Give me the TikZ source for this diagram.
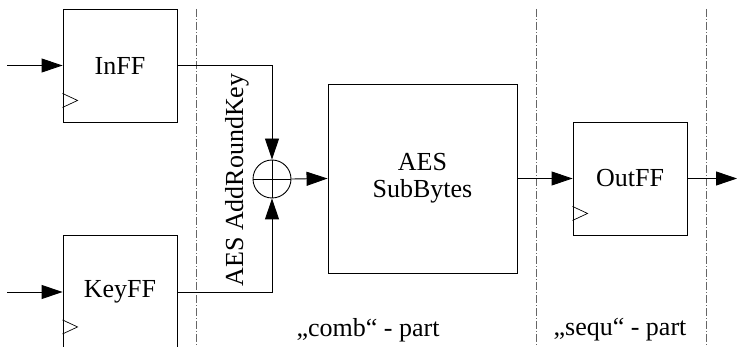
\documentclass[tikz,border=0pt]{standalone}
\usepackage{fontspec}
\setmainfont{Liberation Serif}
\usetikzlibrary{arrows.meta,calc}
\begin{document}
\begin{tikzpicture}[x=1pt,y=-1pt,
  every node/.style={font=\fontsize{26}{30}\selectfont},
  wire/.style={line width=0.9pt},
  sig/.style={wire,-{Triangle[length=21pt,width=14pt]}},
  ffbox/.style={draw,line width=0.9pt,minimum width=114pt,minimum height=113pt,inner sep=0pt},
  combbox/.style={draw,line width=0.9pt,minimum width=189pt,minimum height=189pt,inner sep=0pt,align=center},
  xorc/.style={draw,circle,line width=0.9pt,minimum size=38pt,inner sep=0pt},
  divider/.style={draw=gray!80!black,line width=0.9pt,dash pattern=on 8pt off 2pt on 1pt off 2pt},
  clk/.style={line width=0.7pt}]
\useasboundingbox (0,0) rectangle (737,347);
\clip (0,0) rectangle (737,347);

% region dividers
\draw[divider] (196,9) -- (196,347);
\draw[divider] (536,9) -- (536,347);
\draw[divider] (706,9) -- (706,347);

% registers and logic
\node[ffbox] (inff) at (120,65.5) {InFF};
\node[ffbox] (keyff) at (120,292) {KeyFF};
\node[xorc] (xor) at (272,179) {};
\node[combbox] (sub) at (422.5,178.5) {AES\\[-3pt]SubBytes};
\node[ffbox] (outff) at (630,178.5) {OutFF};

% xor cross
\draw[wire] (xor.north) -- (xor.south);
\draw[wire] (xor.west) -- (xor.east);

% clock markers
\foreach \ff in {inff,keyff,outff}{
  \draw[clk] ($(\ff.south west)+(0,-29)$) -- ++(15,7) -- ++(-15,7);
}

% free ends
\coordinate (inA) at (7,65.5);
\coordinate (inB) at (7,292);
\coordinate (outC) at (737,178.5);

% connections
\draw[sig] (inA) -- (inff.west);
\draw[sig] (inB) -- (keyff.west);
\draw[sig] (inff.east) -| (xor.north);
\draw[sig] (keyff.east) -| (xor.south);
\draw[sig] (xor.east) -- (sub.west);
\draw[sig] (sub.east) -- (outff.west);
\draw[sig] (outff.east) -- (outC);

% labels
\node[rotate=90] (ark) at (237,180) {AES AddRoundKey};
\node (comb) at (368,330) {„comb“ - part};
\node (sequ) at (620,330) {„sequ“ - part};
\end{tikzpicture}
\end{document}
